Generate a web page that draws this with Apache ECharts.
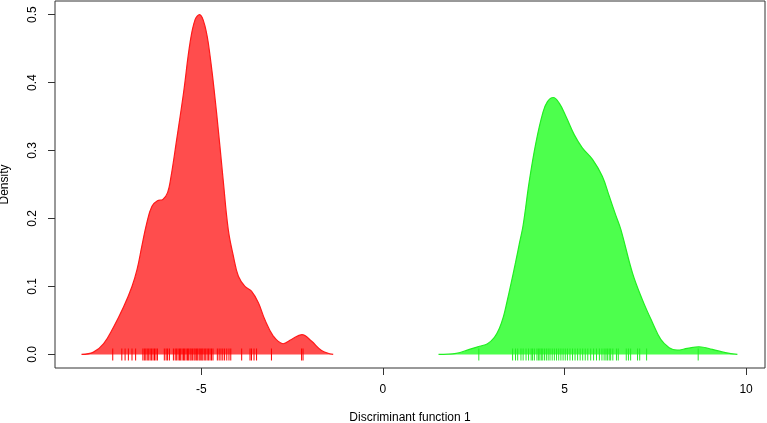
<!DOCTYPE html>
<html>
<head>
<meta charset="utf-8">
<script src="https://cdn.jsdelivr.net/npm/echarts@6/dist/echarts.min.js"></script>
<style>html,body{margin:0;padding:0;background:#fff}#c{width:767px;height:423px}</style>
</head>
<body>
<div id="c"></div>
<script>
// Density curve of group 1 (red): [x, density]
const redDensity = [[-8.30,0],[-7.97,0.0034],[-7.69,0.016],[-7.42,0.04],[-7.14,0.070],[-6.91,0.10],[-6.77,0.125],[-6.64,0.159],[-6.50,0.194],[-6.36,0.218],[-6.21,0.226],[-6.06,0.228],[-5.93,0.238],[-5.84,0.26],[-5.68,0.316],[-5.49,0.385],[-5.31,0.459],[-5.17,0.493],[-5.05,0.5],[-4.90,0.483],[-4.76,0.439],[-4.58,0.355],[-4.40,0.257],[-4.26,0.184],[-4.12,0.145],[-3.98,0.115],[-3.80,0.10],[-3.62,0.093],[-3.43,0.076],[-3.25,0.051],[-3.02,0.027],[-2.75,0.0157],[-2.52,0.022],[-2.23,0.029],[-1.97,0.0196],[-1.69,0.0059],[-1.37,0]];
// Density curve of group 2 (green)
const greenDensity = [[1.53,0],[2.02,0.0015],[2.38,0.0074],[2.66,0.012],[2.88,0.0157],[3.07,0.025],[3.21,0.039],[3.32,0.056],[3.41,0.076],[3.53,0.105],[3.65,0.135],[3.76,0.164],[3.86,0.19],[4.03,0.255],[4.21,0.311],[4.40,0.355],[4.53,0.372],[4.69,0.378],[4.85,0.37],[5.04,0.35],[5.27,0.323],[5.49,0.304],[5.77,0.287],[6.04,0.262],[6.23,0.233],[6.41,0.205],[6.55,0.184],[6.87,0.120],[7.14,0.081],[7.42,0.047],[7.65,0.022],[7.88,0.0098],[8.10,0.0063],[8.38,0.0088],[8.70,0.0113],[9.07,0.0074],[9.43,0.0025],[9.76,0]];
// Rug (individual scores)
const redRug = [-7.44,-7.19,-7.10,-7.01,-6.91,-6.81,-6.61,-6.57,-6.53,-6.49,-6.45,-6.41,-6.37,-6.33,-6.29,-6.25,-6.21,-6.02,-5.97,-5.93,-5.88,-5.77,-5.72,-5.68,-5.64,-5.60,-5.57,-5.53,-5.49,-5.46,-5.42,-5.38,-5.35,-5.31,-5.28,-5.24,-5.20,-5.17,-5.13,-5.10,-5.06,-5.03,-4.99,-4.96,-4.92,-4.88,-4.84,-4.80,-4.76,-4.72,-4.68,-4.56,-4.51,-4.46,-4.41,-4.36,-4.30,-4.24,-4.19,-3.89,-3.66,-3.62,-3.55,-3.48,-3.07,-2.24,-2.20];
const greenRug = [2.64,3.57,3.65,3.71,3.80,3.86,3.94,4.01,4.08,4.12,4.17,4.24,4.28,4.32,4.36,4.40,4.45,4.50,4.55,4.60,4.66,4.72,4.78,4.84,4.90,4.96,5.02,5.08,5.15,5.22,5.29,5.36,5.43,5.50,5.57,5.64,5.72,5.80,5.88,5.96,6.03,6.09,6.14,6.18,6.23,6.27,6.33,6.43,6.48,6.70,6.76,6.82,7.01,7.07,7.26,8.68];
const xTicks = [-5, 0, 5, 10];
const yTicks = [0, 0.1, 0.2, 0.3, 0.4, 0.5];
const xTitle = 'Discriminant function 1';
const yTitle = 'Density';

const chart = echarts.init(document.getElementById('c'), null, {renderer: 'canvas'});
const font = 'Liberation Sans, Arial, sans-serif';
chart.setOption({
  animation: false,
  backgroundColor: '#fff',
  grid: {left: 55, right: 2, top: 1, bottom: 55, containLabel: false, outerBoundsMode: 'none',
         show: true, borderColor: '#333', borderWidth: 1, backgroundColor: 'transparent'},
  xAxis: {
    type: 'value', min: -9.03, max: 10.52, position: 'bottom',
    name: xTitle, nameLocation: 'middle', nameGap: 44,
    nameTextStyle: {fontFamily: font, fontSize: 12, color: '#000'},
    axisLine: {show: false, onZero: false},
    splitLine: {show: false},
    axisTick: {show: true, length: 7, inside: false, customValues: xTicks, lineStyle: {color: '#333'}},
    axisLabel: {customValues: xTicks, margin: 16, fontFamily: font, fontSize: 12, color: '#000'}
  },
  yAxis: {
    type: 'value', min: -0.02, max: 0.52, position: 'left',
    name: yTitle, nameLocation: 'middle', nameGap: 44, nameRotate: 90,
    nameTextStyle: {fontFamily: font, fontSize: 12, color: '#000'},
    axisLine: {show: false, onZero: false},
    splitLine: {show: false},
    axisTick: {show: true, length: 7, customValues: yTicks, lineStyle: {color: '#333'}},
    axisLabel: {customValues: yTicks, rotate: 90, margin: 16, fontFamily: font, fontSize: 12, color: '#000',
      formatter: v => v.toFixed(1)}
  },
  series: [
    {type: 'line', data: redDensity, smooth: 0.4, symbol: 'none',
     lineStyle: {color: '#ff1a1a', width: 1.2}, areaStyle: {color: '#ff4d4d', opacity: 1, origin: 0}},
    {type: 'line', data: greenDensity, smooth: 0.4, symbol: 'none',
     lineStyle: {color: '#22ee22', width: 1.2}, areaStyle: {color: '#4dff4d', opacity: 1, origin: 0}},
    {type: 'scatter', data: redRug.map(v => [v, 0]), symbol: 'rect', symbolSize: [1, 12],
     itemStyle: {color: '#ff0000', opacity: 1}, z: 5},
    {type: 'scatter', data: greenRug.map(v => [v, 0]), symbol: 'rect', symbolSize: [1, 12],
     itemStyle: {color: '#22ee22', opacity: 1}, z: 5}
  ]
});
</script>
</body>
</html>
